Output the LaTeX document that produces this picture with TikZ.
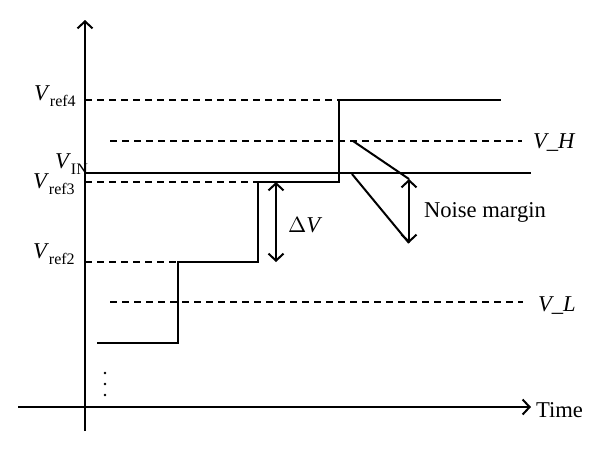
\documentclass[tikz,border=0pt]{standalone}
\usepackage{fontspec}
\setmainfont{Liberation Serif}
\usetikzlibrary{arrows.meta}
\newcommand{\vsub}[1]{\textit{V}\raisebox{-3pt}{\fontsize{8}{8}\selectfont #1}}
\tikzset{
  tip/.style={line width=1pt,arrows={-Straight Barb[length=3.5pt,width=7.5pt]}},
  twotip/.style={line width=1pt,arrows={Straight Barb[length=3.5pt,width=7.5pt]-Straight Barb[length=3.5pt,width=7.5pt]}},
  level/.style={line width=1pt,dash pattern=on 3.5pt off 2.5pt},
  lbl/.style={inner sep=0pt,font=\fontsize{11.3}{13}\selectfont}
}
\begin{document}
\begin{tikzpicture}[x=0.5pt,y=-0.5pt,line width=1pt]
\useasboundingbox (0,0) rectangle (600,452);
\draw[tip] (18,407) -- (531,407) coordinate (x axis);
\draw[tip] (85,431) -- (85,20) coordinate (y axis);
\node[lbl,anchor=base west] (time) at (535,417) {Time};
% reference levels
\draw[level] (85,100) -- (339,100) coordinate (r4);
\draw[level] (110,141) -- (522,141) coordinate (vh);
\draw (85,173) -- (531,173) coordinate (vin);
\draw[level] (85,182) -- (258,182) coordinate (r3);
\draw[level] (85,262) -- (178,262) coordinate (r2);
\draw[level] (110,302) -- (523,302) coordinate (vl);
\node[lbl,anchor=base west] (ref4) at (33,100) {\vsub{ref4}};
\node[lbl,anchor=base west] (in) at (54,168) {\vsub{IN}};
\node[lbl,anchor=base west] (ref3) at (32,188) {\vsub{ref3}};
\node[lbl,anchor=base west] (ref2) at (32,258) {\vsub{ref2}};
\node[lbl,anchor=base west] (vhigh) at (532,148) {\textit{V\_H}};
\node[lbl,anchor=base west] (vlow) at (537,311) {\textit{V\_L}};
% staircase
\draw (97,343) -- (178,343) -- (r2) -- (258,262) -- (r3) -- (339,182) -- (r4) -- (501,100);
\draw[twotip] (276,182) coordinate (dv top) -- (276,262) coordinate (dv bot);
\node[lbl,anchor=base west] (dv) at (287,232) {$\Delta$\textit{V}};
% noise margin
\coordinate (nm top) at (409,179);
\coordinate (nm bot) at (409,243);
\draw (353,141) -- (nm top);
\draw (352,174) -- (nm bot);
\draw[twotip] (nm top) -- (nm bot);
\node[lbl,anchor=base west] (nm) at (423,217) {Noise margin};
\foreach \y in {373,384,395}
  \fill (105,\y) circle (1.3);
\end{tikzpicture}
\end{document}
